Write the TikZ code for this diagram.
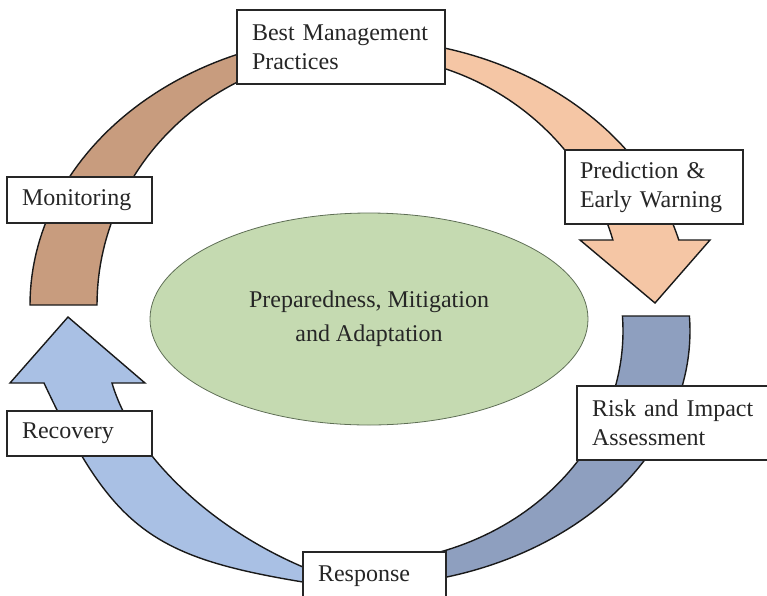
\documentclass[tikz,border=0pt]{standalone}
\usepackage{fontspec}
\setmainfont{Liberation Serif}
\usepackage{xcolor}
\usetikzlibrary{shapes.geometric}

\definecolor{brownarc}{HTML}{C89C7E}
\definecolor{peacharc}{HTML}{F5C6A5}
\definecolor{greyarc}{HTML}{8E9FBF}
\definecolor{bluearc}{HTML}{A9C0E4}
\definecolor{corefill}{HTML}{C5DAB1}
\definecolor{coreline}{HTML}{5E6E55}

\begin{document}
\begin{tikzpicture}[x=1pt,y=-1pt,
    band/.style={draw=black!90, line width=1.4pt, line join=miter},
    stage/.style={draw=black!85, fill=white, line width=1.4pt, inner xsep=15pt, inner ysep=0pt,
        align=left, text=black!85, font=\fontsize{24}{29}\selectfont}]

    \useasboundingbox (0,0) rectangle (767,595);
    \clip (0,0) rectangle (767,595);

    \draw[band, fill=brownarc] plot[domain=180:88, samples=60] ({360+330*cos(\x)},{305-270*sin(\x)})
        -- plot[domain=88:180, samples=60] ({360+263*cos(\x)},{305-252*sin(\x)}) -- cycle;

    \draw[band, fill=peacharc] plot[domain=92:14.97, samples=60] ({360+330*cos(\x)},{310-271*sin(\x)})
        -- (710,240) -- (655,303) -- (580,240)
        -- plot[domain=15.93:92, samples=60] ({360+263*cos(\x)},{310-255*sin(\x)}) -- cycle;

    \draw[band, fill=greyarc] plot[domain=3.37:-86, samples=60] ({360+330*cos(\x)},{331-255*sin(\x)})
        -- plot[domain=-86:3.71, samples=60] ({360+263*cos(\x)},{331-232*sin(\x)}) -- cycle;

    \draw[band, fill=bluearc] (44,383) .. controls (112,528) and (151,557) .. (303,582) -- (370,592)
        -- (370,578) -- (303,567) .. controls (209,527) and (132.6,453.5) .. (112,383)
        -- (145,383) -- (68,317) -- (10,383) -- cycle;

    \node[ellipse, draw=coreline, line width=0.8pt, fill=corefill, minimum width=438pt, minimum height=212pt,
        align=center, text=black!85, font=\fontsize{24}{34}\selectfont] (core) at (369,319)
        {Preparedness, Mitigation\\and Adaptation};

    \node[stage, text width=178pt, minimum height=74pt] (bmp) at (341,47) {Best Management\\Practices};
    \node[stage, text width=148pt, minimum height=74pt] (pew) at (654,187) {Prediction \&\\Early Warning};
    \node[stage, text width=173pt, minimum height=74pt] (ria) at (678.5,423) {Risk and Impact\\Assessment};
    \node[stage, text width=113pt, minimum height=48pt] (res) at (374.5,576) {Response};
    \node[stage, text width=115pt, minimum height=45pt] (rec) at (79.5,433.5) {Recovery};
    \node[stage, text width=115pt, minimum height=46pt] (mon) at (79.5,200) {Monitoring};

\end{tikzpicture}
\end{document}
